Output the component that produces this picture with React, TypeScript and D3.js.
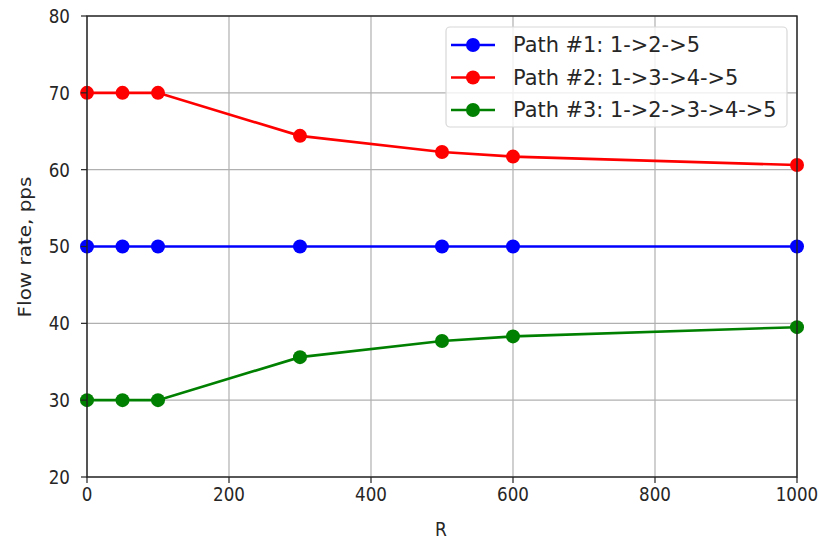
import React from "react";
import * as d3 from "d3";

const rValues = [0, 50, 100, 300, 500, 600, 1000];
const path1 = [50, 50, 50, 50, 50, 50, 50];
const path2 = [70, 70, 70, 64.4, 62.3, 61.7, 60.6];
const path3 = [30, 30, 30, 35.6, 37.7, 38.3, 39.5];
const seriesNames = ["Path #1: 1->2->5", "Path #2: 1->3->4->5", "Path #3: 1->2->3->4->5"];
const seriesColors = ["#0000ff", "#ff0000", "#008000"];
const xTicks = [0, 200, 400, 600, 800, 1000];
const yTicks = [20, 30, 40, 50, 60, 70, 80];

export default function App() {
  const W = 819, H = 541;
  const left = 87, right = 797, top = 16, bottom = 477;
  const x = d3.scaleLinear().domain([0, 1000]).range([left, right]);
  const y = d3.scaleLinear().domain([20, 80]).range([bottom, top]);
  const line = d3.line<number>().x((_, i) => x(rValues[i])).y((d) => y(d));
  const series = [path1, path2, path3];
  const font = "DejaVu Sans, sans-serif";
  const lx = 446, ly = 27, lw = 341, lh = 100;
  const tickFs = 19;
  return (
    <svg width={W} height={H} style={{ position: "absolute", left: 0, top: 0 }} fontFamily={font}>
      <rect width={W} height={H} fill="white" />
      <defs>
        <clipPath id="clip">
          <rect x={left - 8} y={top - 8} width={right - left + 16} height={bottom - top + 16} />
        </clipPath>
      </defs>
      {xTicks.map((t) => (
        <line key={"gx" + t} x1={x(t)} x2={x(t)} y1={top} y2={bottom} stroke="#b0b0b0" strokeWidth={1.2} />
      ))}
      {yTicks.map((t) => (
        <line key={"gy" + t} x1={left} x2={right} y1={y(t)} y2={y(t)} stroke="#b0b0b0" strokeWidth={1.2} />
      ))}
      <g clipPath="url(#clip)">
        {series.map((s, si) => (
          <g key={si}>
            <path d={line(s) || ""} fill="none" stroke={seriesColors[si]} strokeWidth={2.6} />
            {s.map((v, i) => (
              <circle key={i} cx={x(rValues[i])} cy={y(v)} r={7} fill={seriesColors[si]} />
            ))}
          </g>
        ))}
      </g>
      <rect x={left} y={top} width={right - left} height={bottom - top} fill="none" stroke="#222" strokeWidth={1.4} />
      {xTicks.map((t) => (
        <g key={"tx" + t}>
          <line x1={x(t)} x2={x(t)} y1={bottom} y2={bottom + 6} stroke="#222" strokeWidth={1.2} />
          <text x={x(t)} y={bottom + 24} textAnchor="middle" fontSize={tickFs} fill="#262626"
            transform={`translate(${x(t)},0) scale(0.88,1) translate(${-x(t)},0)`}>{t}</text>
        </g>
      ))}
      {yTicks.map((t) => (
        <g key={"ty" + t}>
          <line x1={left - 6} x2={left} y1={y(t)} y2={y(t)} stroke="#222" strokeWidth={1.2} />
          <text x={left - 17} y={y(t) + 7} textAnchor="end" fontSize={tickFs} fill="#262626"
            transform={`translate(${left - 17},0) scale(0.88,1) translate(${-(left - 17)},0)`}>{t}</text>
        </g>
      ))}
      <text x={441} y={536} textAnchor="middle" fontSize={19} fill="#262626"
        transform={`translate(441,0) scale(0.9,1) translate(-441,0)`}>R</text>
      <text transform={`translate(31,247) rotate(-90) scale(1.05,0.95)`} textAnchor="middle" fontSize={19} fill="#262626">Flow rate, pps</text>
      <rect x={lx} y={ly} width={lw} height={lh} rx={4} fill="white" fillOpacity={0.8} stroke="#d8d8d8" strokeWidth={1.2} />
      {seriesNames.map((n, i) => {
        const yy = ly + 18 + i * 32.5;
        return (
          <g key={n}>
            <line x1={lx + 5} x2={lx + 49} y1={yy} y2={yy} stroke={seriesColors[i]} strokeWidth={2.6} />
            <circle cx={lx + 27} cy={yy} r={7} fill={seriesColors[i]} />
            <text x={lx + 67} y={yy + 7.5} fontSize={20.5} fill="#262626"
              transform={`translate(${lx + 67},0) scale(1.02,1) translate(${-(lx + 67)},0)`}>{n}</text>
          </g>
        );
      })}
    </svg>
  );
}
